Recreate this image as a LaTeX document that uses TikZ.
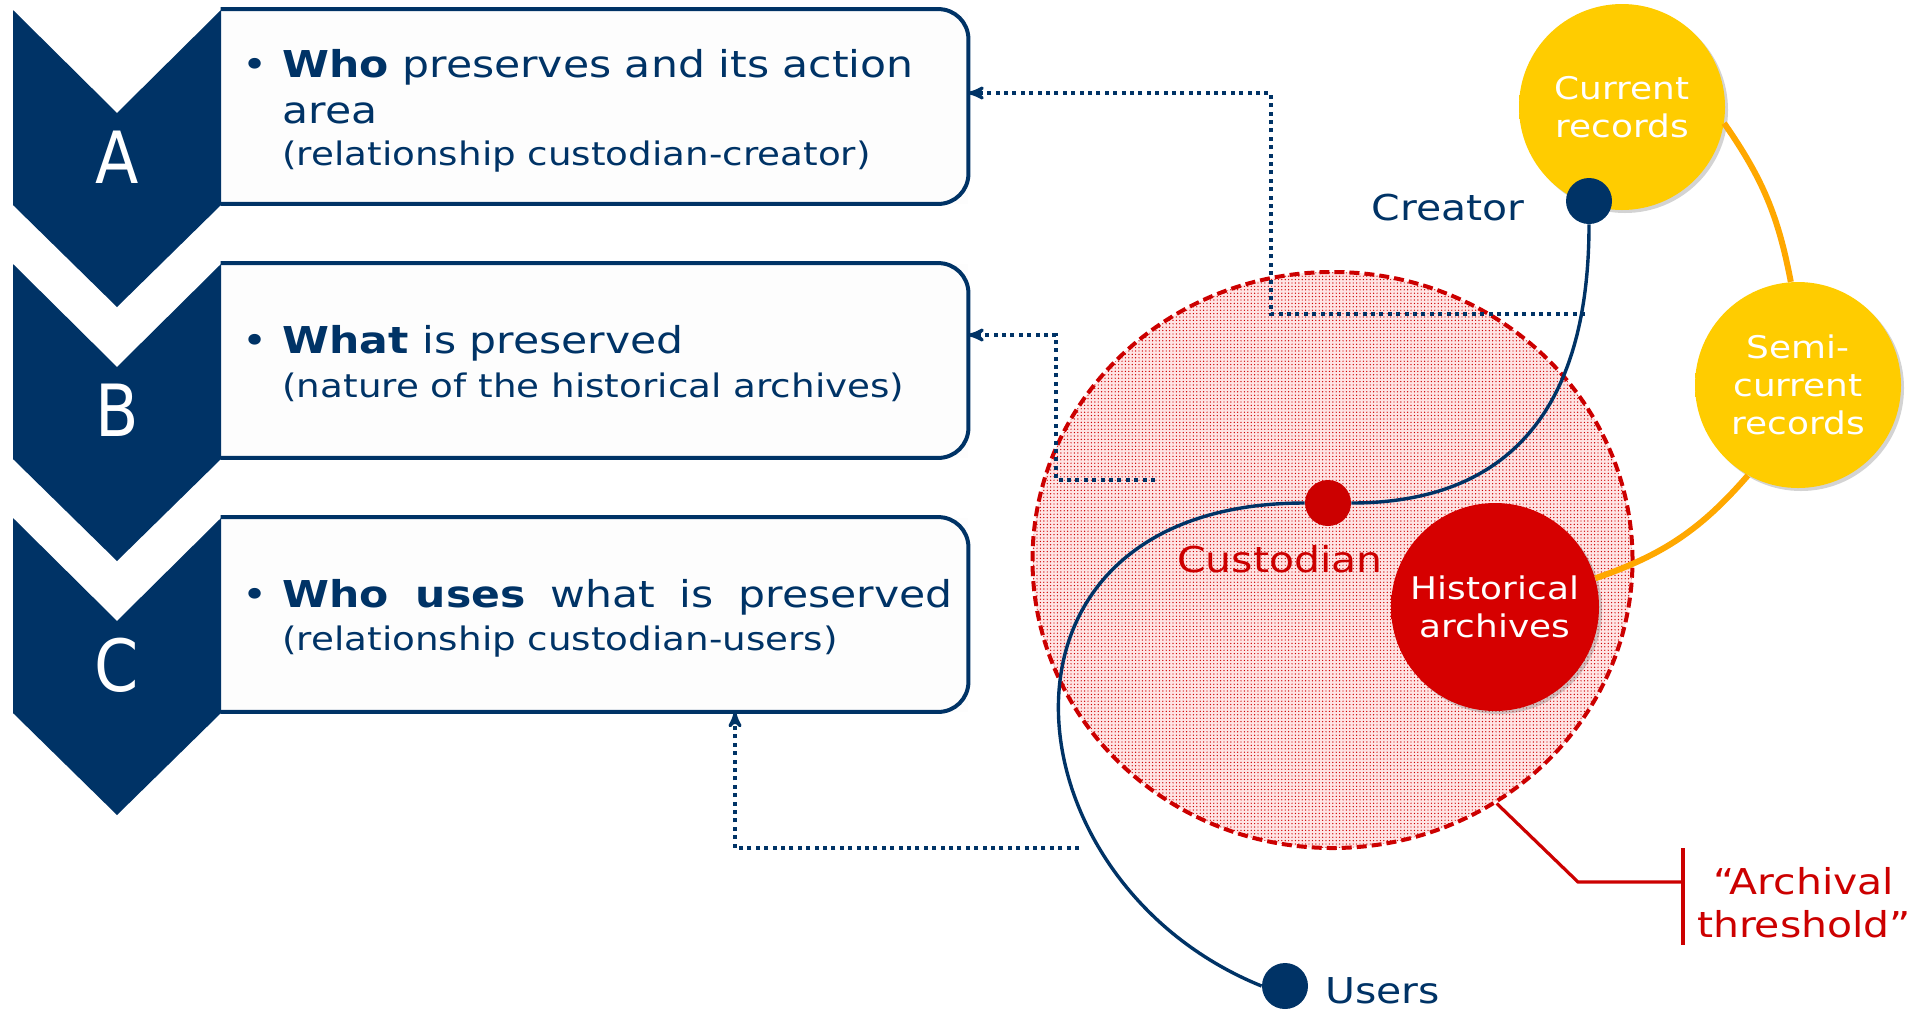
\documentclass[tikz,border=0pt]{standalone}
\usepackage{fontspec}
\setmainfont{DejaVu Sans}[FakeStretch=1.15]
\newfontfamily\letterfont{DejaVu Sans}[FakeStretch=0.88]
\usetikzlibrary{arrows,shapes.geometric,shadows,patterns.meta}
\definecolor{navy}{RGB}{0,51,102}
\definecolor{archred}{RGB}{204,0,0}
\definecolor{ballred}{RGB}{214,0,0}
\definecolor{ballredrim}{RGB}{140,0,0}
\definecolor{gold}{RGB}{255,204,0}
\definecolor{goldrim}{RGB}{205,150,0}
\definecolor{amber}{RGB}{255,168,0}
\definecolor{paper}{RGB}{253,253,253}
\pgfdeclareradialshading{goldshade}{\pgfpoint{0bp}{0bp}}{color(0bp)=(gold); color(38bp)=(gold); color(50bp)=(goldrim)}
\pgfdeclareradialshading{redshade}{\pgfpoint{0bp}{0bp}}{color(0bp)=(ballred); color(38bp)=(ballred); color(50bp)=(ballredrim)}
\tikzset{
  chevron/.style = {fill=navy},
  boxbg/.style = {rectangle, fill=paper, inner sep=0pt,
    minimum width=373.5pt, minimum height=97pt},
  boxline/.style = {draw=navy, line width=2pt, rounded corners=15pt},
  chevletter/.style = {text=white, inner sep=0pt,
    font=\letterfont\fontsize{36}{36}\selectfont},
  headline/.style = {anchor=base west, inner sep=0pt, text=navy,
    font=\fontsize{18.5}{22}\selectfont},
  subline/.style = {anchor=base west, inner sep=0pt, text=navy,
    font=\fontsize{16.2}{20}\selectfont},
  bulletmark/.style = {anchor=base, inner sep=0pt, text=navy,
    font=\fontsize{18.5}{22}\selectfont},
  recball/.style = {circle, inner sep=0pt, align=center, text=white,
    font=\fontsize{15.6}{19}\selectfont,
    drop shadow={opacity=0.35, shadow xshift=1.5pt, shadow yshift=-1.5pt}},
  goldball/.style = {recball, shade, shading=goldshade, minimum size=103pt},% records
  redball/.style = {recball, shade, shading=redshade, minimum size=104pt},% archives
  thresholdring/.style = {ellipse, inner sep=0pt, minimum width=300pt,
    minimum height=288pt, draw=archred, line width=2pt,
    dash pattern=on 5pt off 2.5pt, preaction={fill=red!10},
    pattern={Dots[distance=1.7pt, radius=0.35pt]}, pattern color=archred},
  navydot/.style = {circle, fill=navy, inner sep=0pt, minimum size=23pt},
  reddot/.style = {circle, fill=archred, inner sep=0pt, minimum size=23pt},
  actor/.style = {inner sep=0pt, font=\fontsize{17.8}{21.5}\selectfont},
  navyline/.style = {draw=navy, line width=1.7pt},
  orangeline/.style = {draw=amber, line width=3pt},
  redline/.style = {draw=archred, line width=1.6pt},
  linkline/.style = {->, >=stealth', draw=navy, line width=1.6pt,
    dash pattern=on 2pt off 2.2pt}
}
\begin{document}
\begin{tikzpicture}[x=0.5pt,y=-0.5pt]
\useasboundingbox (0,0) rectangle (1921,1014);

% three boxes
\node[boxbg] (boxA) at (594.5,106.5) {};
\node[boxbg] (boxB) at (594.5,360.5) {};
\node[boxbg] (boxC) at (594.5,614.5) {};
\draw[boxline] (boxA.north west) -- (boxA.north east) -- (boxA.south east) -- (boxA.south west);
\draw[boxline] (boxB.north west) -- (boxB.north east) -- (boxB.south east) -- (boxB.south west);
\draw[boxline] (boxC.north west) -- (boxC.north east) -- (boxC.south east) -- (boxC.south west);

% chevrons
\fill[chevron] (13,10) -- (117,113) -- (221,10) -- (221,205) -- (117,307) -- (13,205) -- cycle;
\fill[chevron] (13,264) -- (117,367) -- (221,264) -- (221,459) -- (117,561) -- (13,459) -- cycle;
\fill[chevron] (13,518) -- (117,621) -- (221,518) -- (221,713) -- (117,815) -- (13,713) -- cycle;
\node[chevletter] (letA) at (117,157) {A};
\node[chevletter] (letB) at (117,410) {B};
\node[chevletter] (letC) at (117,665) {C};

% box texts
\node[bulletmark] (dotA) at (255,77) {•};
\node[headline] (lineA1) at (282,77) {\textbf{Who} preserves and its action};
\node[headline] (lineA2) at (282,123) {area};
\node[subline] (lineA3) at (282,165) {(relationship custodian-creator)};
\node[bulletmark] (dotB) at (255,353) {•};
\node[headline] (lineB1) at (282,353) {\textbf{What} is preserved};
\node[subline] (lineB2) at (282,397) {(nature of the historical archives)};
\node[bulletmark] (dotC) at (255,607) {•};
\node[headline] (lineC1) at (282,607) {\makebox[335pt][s]{\textbf{Who uses} what is preserved}};
\node[subline] (lineC2) at (282,650) {(relationship custodian-users)};

% archival threshold and records
\node[thresholdring] (thr) at (1332.5,560) {};
\node[redball] (hist) at (1495,607) {Historical\\archives};
\node[goldball] (cur) at (1622,107) {Current\\records};
\node[goldball] (semi) at (1798,385) {Semi-\\current\\records};
\draw[orangeline] (cur.-9) to[bend left=12] (semi.94);
\draw[orangeline] (semi.241) to[bend left=15] (hist.16);

% creator, custodian, users
\node[navydot] (creatorDot) at (1589,201) {};
\node[reddot] (custDot) at (1328,503) {};
\node[navydot] (usersDot) at (1285,986) {};
\draw[navyline] (creatorDot.south) .. controls (1589,440) and (1480,503) .. (custDot.east);
\draw[navyline] (custDot.west) .. controls (967,503) and (1000,880) .. (usersDot.west);
\node[actor, text=navy, anchor=base east] (creator) at (1525,220) {Creator};
\node[actor, text=archred, anchor=base west] (custodian) at (1177,572) {Custodian};
\node[actor, text=navy, anchor=base west] (users) at (1325,1003) {Users};

% threshold label
\coordinate (thrKnee) at (1578,882);
\coordinate (barTop) at (1683,848);
\coordinate (barBot) at (1683,945);
\draw[redline] (thr.-56) -- (thrKnee) -- (thrKnee -| barTop);
\draw[redline] (barTop) -- (barBot);
\node[actor, text=archred, align=center] (thrLabel) at (1804,903) {“Archival\\threshold”};

% dotted links to the boxes
\coordinate (tapA) at (1585,314);
\coordinate (kneeA) at (1271,93);
\draw[linkline] (tapA) -| (kneeA) -- (kneeA -| boxA.east);
\coordinate (tapB) at (1155,480);
\coordinate (kneeB) at (1056,335);
\draw[linkline] (tapB) -| (kneeB) -- (kneeB -| boxB.east);
\coordinate (tapC) at (1079,848);
\coordinate (kneeC) at (735,848);
\draw[linkline] (tapC) -- (kneeC) -- (kneeC |- boxC.south);
\end{tikzpicture}
\end{document}
